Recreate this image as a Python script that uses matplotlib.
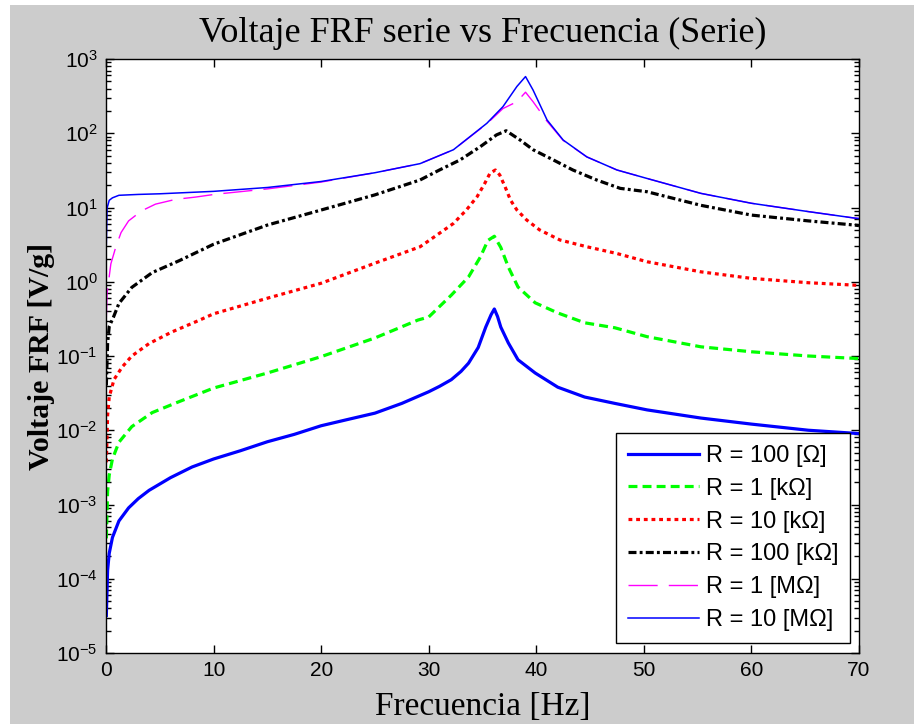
import matplotlib
matplotlib.use("Agg")
import matplotlib.pyplot as plt
from matplotlib.patches import Rectangle
from matplotlib.ticker import LogLocator, FixedLocator, NullLocator, NullFormatter

plt.rcParams['font.family'] = ['Liberation Sans', 'DejaVu Sans']

# ---------------- data ----------------
f_r100 = [0.03, 0.15, 0.3, 0.6, 1.2, 2.1, 3.0, 4.0, 6.0, 8.0, 10, 12.5, 15, 17.5, 20, 22.5, 25, 27.5, 30, 31, 32.1,
          33.0, 33.7, 34.6, 35.3, 35.8, 36.1, 36.4, 36.7, 37.4, 38.3, 39.9, 42, 44.5, 47.3, 50.3, 55.3, 60, 65.3, 69.6, 70]
v_r100 = [3.2e-5, 1.3e-4, 2.2e-4, 3.6e-4, 6e-4, 9e-4, 1.2e-3, 1.55e-3, 2.3e-3, 3.2e-3, 4.1e-3, 5.3e-3, 7.0e-3, 8.8e-3,
          0.0115, 0.014, 0.017, 0.023, 0.033, 0.039, 0.048, 0.062, 0.08, 0.13, 0.245, 0.36, 0.43, 0.34, 0.245, 0.15,
          0.089, 0.059, 0.038, 0.028, 0.023, 0.0188, 0.0146, 0.0121, 0.0100, 0.0091, 0.0090]

f_r1k = [0.03, 0.15, 0.3, 0.6, 1.2, 2.4, 4.3, 6.8, 10, 15, 20, 25, 29.0, 30.0, 32.1, 33.7, 34.8, 35.5, 36.1, 36.7,
         37.4, 38.3, 39.9, 42, 44.5, 47.3, 50.3, 55.3, 60, 65.3, 69.6, 70]
v_r1k = [3.5e-4, 1.5e-3, 2.5e-3, 4.1e-3, 6.9e-3, 0.0112, 0.0173, 0.0243, 0.037, 0.059, 0.098, 0.175, 0.305, 0.335,
         0.66, 1.16, 2.15, 3.6, 4.1, 2.9, 1.58, 0.85, 0.52, 0.38, 0.28, 0.24, 0.182, 0.133, 0.114, 0.10, 0.093, 0.092]

f_r10k = [0.03, 0.15, 0.3, 0.74, 1.5, 2.4, 4.0, 6.1, 8.6, 10, 15, 20, 25, 29.2, 31.0, 32.3, 33.5, 34.5, 35.2, 35.7,
          36.2, 36.6, 37.1, 37.6, 38.2, 39.1, 40.3, 42.2, 44.7, 47.5, 50.3, 55.3, 60, 65.3, 69.6, 70]
v_r10k = [3.7e-3, 0.016, 0.028, 0.048, 0.071, 0.10, 0.147, 0.21, 0.30, 0.37, 0.60, 0.955, 1.78, 2.96, 4.5, 6.1,
          9.25, 14, 21, 29, 32, 27.5, 19, 12.6, 9.25, 6.8, 5.0, 3.65, 2.96, 2.4, 1.86, 1.36, 1.11, 0.97, 0.90, 0.89]

f_r100k = [0.03, 0.15, 0.3, 0.68, 1.2, 2.4, 4.3, 6.8, 10, 15, 20, 25, 29.2, 31.0, 32.9, 34.8, 36.3, 37.2, 38.5,
           39.7, 41.6, 43.4, 45.6, 47.8, 50.3, 55.3, 60, 65.3, 69.6, 70]
v_r100k = [0.04, 0.15, 0.25, 0.33, 0.51, 0.84, 1.33, 1.92, 3.2, 5.8, 9.25, 14.8, 23.5, 32, 43.6, 66, 95, 108, 81,
           60, 43.6, 32, 23.5, 18.1, 16.3, 10.7, 7.9, 6.6, 5.8, 5.7]

f_r1M = [0.03, 0.1, 0.45, 0.9, 1.4, 2.1, 3.3, 4.6, 6.5, 8.3, 10.2, 15, 20, 25, 29.2, 32.3, 35.4, 36.9, 38.2, 39.0,
         39.7, 41.0, 42.5, 44.7, 47.5, 50.3, 55.3, 60, 65.3, 69.6, 70]
v_r1M = [0.33, 0.7, 1.74, 2.9, 4.6, 6.6, 9.0, 11.1, 12.9, 13.8, 15.1, 17.8, 22.0, 29.4, 39, 60, 134, 215, 266, 357,
         266, 145, 80, 48, 32, 24.6, 15.5, 11.4, 8.8, 7.2, 7.1]

f_r10M = [0.03, 0.1, 0.3, 0.6, 1.2, 3.0, 5.0, 10, 15, 20, 25, 29.2, 32.3, 35.4, 36.9, 38.2, 39.0, 39.7, 41.0, 42.5,
          44.7, 47.5, 50.3, 55.3, 60, 65.3, 69.6, 70]
v_r10M = [3.2, 9.8, 12.5, 13.5, 14.6, 15.0, 15.3, 16.5, 18.6, 22.4, 29.4, 39, 60, 136, 228, 427, 580, 382, 151, 81,
          48, 32, 24.6, 15.5, 11.4, 8.8, 7.2, 7.1]

labels = ['R = 100 [\u03A9]', 'R = 1 [k\u03A9]', 'R = 10 [k\u03A9]', 'R = 100 [k\u03A9]',
          'R = 1 [M\u03A9]', 'R = 10 [M\u03A9]']
xticks = [0, 10, 20, 30, 40, 50, 60, 70]
yexp = [-5, -4, -3, -2, -1, 0, 1, 2, 3]

# ---------------- figure ----------------
W, H = 914, 724
fig = plt.figure(figsize=(W / 100, H / 100), dpi=100, facecolor='white')
fig.patches.append(Rectangle((10 / W, 0), 1, 1 - 5 / H, transform=fig.transFigure,
                             facecolor='#CCCCCC', edgecolor='none', zorder=-10))

ax = fig.add_axes([106 / W, 1 - 653 / H, (859 - 106) / W, (653 - 59) / H])
ax.set_facecolor('white')

ax.plot(f_r100, v_r100, color=(0, 0, 1), lw=2.3, ls='-', label=labels[0])
ax.plot(f_r1k, v_r1k, color=(0, 1, 0), lw=2.3, ls=(0, (2.8, 1.6)), label=labels[1])
ax.plot(f_r10k, v_r10k, color=(1, 0, 0), lw=2.3, ls=(0, (1.2, 1.2)), label=labels[2])
ax.plot(f_r100k, v_r100k, color='black', lw=2.3, ls=(0, (2.5, 1.0, 0.9, 1.0)), label=labels[3])
ax.plot(f_r1M, v_r1M, color=(1, 0, 1), lw=1.0, ls=(0, (21, 8)), label=labels[4])
ax.plot(f_r10M, v_r10M, color=(0, 0, 1), lw=1.1, ls='-', label=labels[5])

ax.set_yscale('log')
ax.set_xlim(0, 70)
ax.set_ylim(1e-5, 1e3)
ax.xaxis.set_major_locator(FixedLocator(xticks))
ax.set_xticklabels([str(t) for t in xticks])
ax.yaxis.set_major_locator(FixedLocator([10.0 ** e for e in yexp]))
ax.set_yticklabels([r'$\mathregular{10^{%d}}$' % e for e in yexp])
ax.yaxis.set_minor_locator(LogLocator(base=10, subs=range(2, 10), numticks=50))
ax.yaxis.set_minor_formatter(NullFormatter())
ax.xaxis.set_minor_locator(NullLocator())

ax.tick_params(which='both', direction='in', top=True, right=True, colors='black', labelsize=15, width=1)
ax.tick_params(which='major', length=6, pad=6)
ax.tick_params(which='minor', length=3.5)
for s in ax.spines.values():
    s.set_linewidth(1.0)
    s.set_color('black')

ax.set_title('Voltaje FRF serie vs Frecuencia (Serie)', family='Liberation Serif', fontsize=26, pad=12.5)
ax.set_xlabel('Frecuencia [Hz]', family='Liberation Serif', fontsize=24, labelpad=8)
ax.set_ylabel('Voltaje FRF [V/g]', family='Liberation Serif', fontsize=21.5, fontweight='bold', labelpad=1)

leg = ax.legend(loc='lower right', bbox_to_anchor=(0.9885, 0.017), fontsize=17, frameon=True, fancybox=False,
                edgecolor='black', framealpha=1, handlelength=3.0, handletextpad=0.3, labelspacing=0.46,
                borderpad=0.5, borderaxespad=0)
leg.get_frame().set_linewidth(1.0)

fig.savefig('out.png', dpi=100, facecolor=fig.get_facecolor())
